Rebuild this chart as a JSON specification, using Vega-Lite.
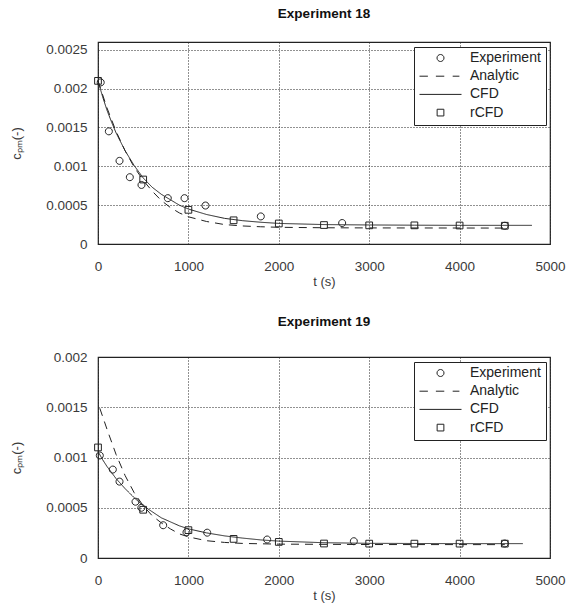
{
  "$schema": "https://vega.github.io/schema/vega-lite/v6.json",
  "padding": {"left": 10, "top": 5, "right": 0, "bottom": 0},
  "background": "white",
  "bounds": "flush",
  "spacing": 113,
  "config": {
    "font": "Liberation Sans",
    "view": {"stroke": "#222", "strokeWidth": 1.2},
    "title": {"fontSize": 13.5, "fontWeight": "bold", "color": "#111", "offset": 22, "anchor": "middle"},
    "axis": {
      "domain": false,
      "ticks": false,
      "tickSize": 0,
      "labelFlush": false,
      "grid": true,
      "gridColor": "#222",
      "gridDash": [1, 2],
      "gridWidth": 1,
      "gridOpacity": 1,
      "labelFont": "Liberation Sans",
      "labelFontSize": 13.5,
      "labelColor": "#3a3a3a",
      "titleFont": "Liberation Sans",
      "titleFontSize": 13,
      "titleFontWeight": "normal",
      "titleColor": "#3a3a3a"
    },
    "axisX": {"labelPadding": 15, "titlePadding": 3},
    "axisY": {"labelPadding": 11, "titlePadding": 22},
    "legend": {
      "orient": "none",
      "legendX": 316,
      "legendY": 5,
      "strokeColor": "#222",
      "fillColor": "white",
      "padding": 5,
      "cornerRadius": 0,
      "labelFontSize": 14,
      "labelColor": "#222",
      "labelOffset": 8,
      "symbolSize": 1764,
      "symbolStrokeColor": "#222",
      "symbolFillColor": "transparent",
      "symbolStrokeWidth": 1,
      "clipHeight": 12,
      "rowPadding": 4.2
    }
  },
  "datasets": {
    "lines18": [
      {"series": "CFD", "t": 0, "c": 0.0021}, {"series": "CFD", "t": 50, "c": 0.0019}, {"series": "CFD", "t": 100, "c": 0.00172},
      {"series": "CFD", "t": 150, "c": 0.00157}, {"series": "CFD", "t": 200, "c": 0.00143}, {"series": "CFD", "t": 300, "c": 0.0012},
      {"series": "CFD", "t": 400, "c": 0.00101}, {"series": "CFD", "t": 500, "c": 0.00085}, {"series": "CFD", "t": 600, "c": 0.00073},
      {"series": "CFD", "t": 700, "c": 0.00064}, {"series": "CFD", "t": 800, "c": 0.00057}, {"series": "CFD", "t": 900, "c": 0.0005},
      {"series": "CFD", "t": 1000, "c": 0.00045}, {"series": "CFD", "t": 1200, "c": 0.00038}, {"series": "CFD", "t": 1400, "c": 0.00033},
      {"series": "CFD", "t": 1600, "c": 0.0003}, {"series": "CFD", "t": 1800, "c": 0.00028}, {"series": "CFD", "t": 2000, "c": 0.000265},
      {"series": "CFD", "t": 2500, "c": 0.00025}, {"series": "CFD", "t": 3000, "c": 0.000245}, {"series": "CFD", "t": 3500, "c": 0.000242},
      {"series": "CFD", "t": 4000, "c": 0.00024}, {"series": "CFD", "t": 4800, "c": 0.00024},
      {"series": "Analytic", "t": 0, "c": 0.0021}, {"series": "Analytic", "t": 100, "c": 0.00175}, {"series": "Analytic", "t": 200, "c": 0.00145},
      {"series": "Analytic", "t": 300, "c": 0.0012}, {"series": "Analytic", "t": 400, "c": 0.00099}, {"series": "Analytic", "t": 500, "c": 0.00082},
      {"series": "Analytic", "t": 600, "c": 0.00068}, {"series": "Analytic", "t": 700, "c": 0.00056}, {"series": "Analytic", "t": 800, "c": 0.00047},
      {"series": "Analytic", "t": 900, "c": 0.0004}, {"series": "Analytic", "t": 1000, "c": 0.00035}, {"series": "Analytic", "t": 1200, "c": 0.00029},
      {"series": "Analytic", "t": 1400, "c": 0.00025}, {"series": "Analytic", "t": 1600, "c": 0.000232}, {"series": "Analytic", "t": 1800, "c": 0.000222},
      {"series": "Analytic", "t": 2000, "c": 0.000215}, {"series": "Analytic", "t": 2500, "c": 0.000209}, {"series": "Analytic", "t": 3000, "c": 0.000207},
      {"series": "Analytic", "t": 4500, "c": 0.000205}
    ],
    "points18": [
      {"series": "Experiment", "t": 30, "c": 0.00208}, {"series": "Experiment", "t": 120, "c": 0.00145}, {"series": "Experiment", "t": 238, "c": 0.00107},
      {"series": "Experiment", "t": 352, "c": 0.00086}, {"series": "Experiment", "t": 481, "c": 0.00076}, {"series": "Experiment", "t": 772, "c": 0.00059},
      {"series": "Experiment", "t": 957, "c": 0.00059}, {"series": "Experiment", "t": 1189, "c": 0.000495}, {"series": "Experiment", "t": 1801, "c": 0.000355},
      {"series": "Experiment", "t": 2701, "c": 0.00027}, {"series": "Experiment", "t": 4500, "c": 0.000235},
      {"series": "rCFD", "t": 0, "c": 0.0021}, {"series": "rCFD", "t": 500, "c": 0.00083}, {"series": "rCFD", "t": 1000, "c": 0.00044},
      {"series": "rCFD", "t": 1500, "c": 0.000305}, {"series": "rCFD", "t": 2000, "c": 0.000264}, {"series": "rCFD", "t": 2500, "c": 0.000244},
      {"series": "rCFD", "t": 3000, "c": 0.00024}, {"series": "rCFD", "t": 3500, "c": 0.00024}, {"series": "rCFD", "t": 4000, "c": 0.000238},
      {"series": "rCFD", "t": 4500, "c": 0.000235}
    ],
    "lines19": [
      {"series": "CFD", "t": 0, "c": 0.00106}, {"series": "CFD", "t": 50, "c": 0.00098}, {"series": "CFD", "t": 100, "c": 0.00091},
      {"series": "CFD", "t": 200, "c": 0.00079}, {"series": "CFD", "t": 300, "c": 0.00069}, {"series": "CFD", "t": 400, "c": 0.0006},
      {"series": "CFD", "t": 500, "c": 0.00052}, {"series": "CFD", "t": 600, "c": 0.00046}, {"series": "CFD", "t": 700, "c": 0.0004},
      {"series": "CFD", "t": 800, "c": 0.00036}, {"series": "CFD", "t": 900, "c": 0.00032}, {"series": "CFD", "t": 1000, "c": 0.00029},
      {"series": "CFD", "t": 1200, "c": 0.00025}, {"series": "CFD", "t": 1400, "c": 0.00022}, {"series": "CFD", "t": 1600, "c": 0.000198},
      {"series": "CFD", "t": 1800, "c": 0.00018}, {"series": "CFD", "t": 2000, "c": 0.000168}, {"series": "CFD", "t": 2500, "c": 0.000152},
      {"series": "CFD", "t": 3000, "c": 0.000146}, {"series": "CFD", "t": 4000, "c": 0.000143}, {"series": "CFD", "t": 4700, "c": 0.000143},
      {"series": "Analytic", "t": 20, "c": 0.00149}, {"series": "Analytic", "t": 100, "c": 0.00128}, {"series": "Analytic", "t": 200, "c": 0.00103},
      {"series": "Analytic", "t": 300, "c": 0.00082}, {"series": "Analytic", "t": 400, "c": 0.00065}, {"series": "Analytic", "t": 500, "c": 0.00052},
      {"series": "Analytic", "t": 600, "c": 0.00042}, {"series": "Analytic", "t": 700, "c": 0.00035}, {"series": "Analytic", "t": 800, "c": 0.00029},
      {"series": "Analytic", "t": 900, "c": 0.00024}, {"series": "Analytic", "t": 1000, "c": 0.00021}, {"series": "Analytic", "t": 1200, "c": 0.000172},
      {"series": "Analytic", "t": 1400, "c": 0.000155}, {"series": "Analytic", "t": 1600, "c": 0.000145}, {"series": "Analytic", "t": 2000, "c": 0.000138},
      {"series": "Analytic", "t": 3000, "c": 0.000134}, {"series": "Analytic", "t": 4500, "c": 0.000133}
    ],
    "points19": [
      {"series": "Experiment", "t": 20, "c": 0.00102}, {"series": "Experiment", "t": 164, "c": 0.00088}, {"series": "Experiment", "t": 238, "c": 0.00076},
      {"series": "Experiment", "t": 415, "c": 0.00056}, {"series": "Experiment", "t": 480, "c": 0.0005}, {"series": "Experiment", "t": 721, "c": 0.000326},
      {"series": "Experiment", "t": 979, "c": 0.000257}, {"series": "Experiment", "t": 1208, "c": 0.000252}, {"series": "Experiment", "t": 1871, "c": 0.000184},
      {"series": "Experiment", "t": 2830, "c": 0.000167}, {"series": "Experiment", "t": 4500, "c": 0.000144},
      {"series": "rCFD", "t": 0, "c": 0.0011}, {"series": "rCFD", "t": 500, "c": 0.00048}, {"series": "rCFD", "t": 1000, "c": 0.000277},
      {"series": "rCFD", "t": 1500, "c": 0.00019}, {"series": "rCFD", "t": 2000, "c": 0.00016}, {"series": "rCFD", "t": 2500, "c": 0.000144},
      {"series": "rCFD", "t": 3000, "c": 0.000143}, {"series": "rCFD", "t": 3500, "c": 0.000143}, {"series": "rCFD", "t": 4000, "c": 0.000143},
      {"series": "rCFD", "t": 4500, "c": 0.000143}
    ]
  },
  "resolve": {"legend": {"shape": "independent"}, "scale": {"y": "independent"}},
  "vconcat": [
    {
      "title": "Experiment 18",
      "width": 452,
      "height": 202,
      "layer": [
        {
          "data": {"name": "lines18"},
          "mark": {"type": "line", "color": "#222", "strokeWidth": 1},
          "encoding": {
            "x": {"field": "t", "type": "quantitative", "scale": {"domain": [0, 5000]}, "axis": {"title": "t (s)", "values": [0, 1000, 2000, 3000, 4000, 5000], "format": "d"}},
            "y": {"field": "c", "type": "quantitative", "scale": {"domain": [0, 0.0025]}, "axis": {"title": "cₚₘ(-)", "values": [0, 0.0005, 0.001, 0.0015, 0.002, 0.0025], "format": "~g"}},
            "strokeDash": {"field": "series", "type": "nominal", "scale": {"domain": ["Analytic", "CFD"], "range": [[8, 6], [1, 0]]}, "legend": null}
          }
        },
        {
          "data": {"name": "points18"},
          "mark": {"type": "point", "filled": false, "stroke": "#222", "strokeWidth": 1, "size": 1764, "opacity": 1},
          "encoding": {
            "x": {"field": "t", "type": "quantitative"},
            "y": {"field": "c", "type": "quantitative"},
            "shape": {
              "field": "series", "type": "nominal",
              "scale": {"domain": ["Experiment", "Analytic", "CFD", "rCFD"], "range": ["M0.167,0A0.167,0.167 0 1,1 -0.167,0A0.167,0.167 0 1,1 0.167,0Z", "M-1,0H-0.6M-0.22,0H0.18M0.58,0H0.9", "M-1,0H1", "M-0.16,-0.16H0.16V0.16H-0.16Z"]},
              "legend": {"title": null}
            }
          }
        }
      ]
    },
    {
      "title": "Experiment 19",
      "width": 452,
      "height": 201,
      "layer": [
        {
          "data": {"name": "lines19"},
          "mark": {"type": "line", "color": "#222", "strokeWidth": 1},
          "encoding": {
            "x": {"field": "t", "type": "quantitative", "scale": {"domain": [0, 5000]}, "axis": {"title": "t (s)", "values": [0, 1000, 2000, 3000, 4000, 5000], "format": "d"}},
            "y": {"field": "c", "type": "quantitative", "scale": {"domain": [0, 0.002]}, "axis": {"title": "cₚₘ(-)", "values": [0, 0.0005, 0.001, 0.0015, 0.002], "format": "~g"}},
            "strokeDash": {"field": "series", "type": "nominal", "scale": {"domain": ["Analytic", "CFD"], "range": [[8, 6], [1, 0]]}, "legend": null}
          }
        },
        {
          "data": {"name": "points19"},
          "mark": {"type": "point", "filled": false, "stroke": "#222", "strokeWidth": 1, "size": 1764, "opacity": 1},
          "encoding": {
            "x": {"field": "t", "type": "quantitative"},
            "y": {"field": "c", "type": "quantitative"},
            "shape": {
              "field": "series", "type": "nominal",
              "scale": {"domain": ["Experiment", "Analytic", "CFD", "rCFD"], "range": ["M0.167,0A0.167,0.167 0 1,1 -0.167,0A0.167,0.167 0 1,1 0.167,0Z", "M-1,0H-0.6M-0.22,0H0.18M0.58,0H0.9", "M-1,0H1", "M-0.16,-0.16H0.16V0.16H-0.16Z"]},
              "legend": {"title": null}
            }
          }
        }
      ]
    }
  ]
}
